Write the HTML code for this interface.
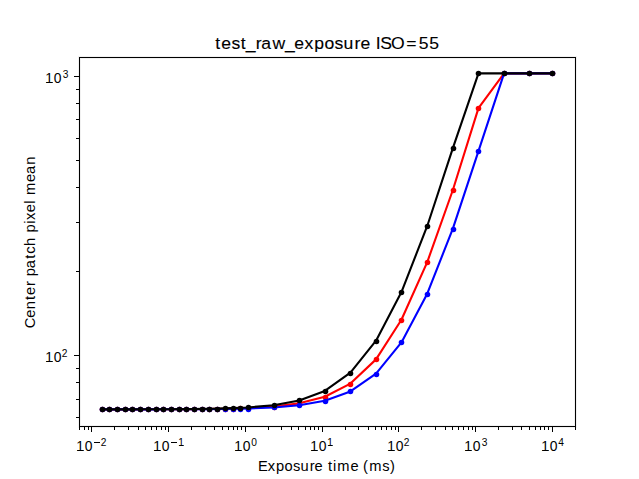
<!DOCTYPE html><html><head><meta charset="utf-8"><style>html,body{margin:0;padding:0;background:#fff;}svg{display:block;}text{font-family:"Liberation Sans",sans-serif;fill:#000;}</style></head><body>
<svg width="639" height="479" viewBox="0 0 639 479">
<rect width="639" height="479" fill="#fff"/>
<path d="M79.5 428.0V56.0M575.5 428.0V56.0M78.0 57.5H577.0M78.0 426.5H577.0" stroke="#f1f1f1" stroke-width="3" fill="none" shape-rendering="crispEdges"/>
<g stroke="#000" stroke-width="1.0" fill="none" shape-rendering="crispEdges">
<path d="M79.5 427.0V57.0M575.5 427.0V57.0M79.0 57.5H576.0M79.0 426.5H576.0"/>
</g>
<path d="M79.5 427.0v2.78M84.5 427.0v2.78M88.5 427.0v2.78M91.5 427.0v4.86M114.5 427.0v2.78M128.5 427.0v2.78M138.5 427.0v2.78M145.5 427.0v2.78M151.5 427.0v2.78M156.5 427.0v2.78M161.5 427.0v2.78M165.5 427.0v2.78M168.5 427.0v4.86M191.5 427.0v2.78M205.5 427.0v2.78M214.5 427.0v2.78M222.5 427.0v2.78M228.5 427.0v2.78M233.5 427.0v2.78M237.5 427.0v2.78M241.5 427.0v2.78M245.5 427.0v4.86M268.5 427.0v2.78M281.5 427.0v2.78M291.5 427.0v2.78M298.5 427.0v2.78M305.5 427.0v2.78M310.5 427.0v2.78M314.5 427.0v2.78M318.5 427.0v2.78M322.5 427.0v4.86M345.5 427.0v2.78M358.5 427.0v2.78M368.5 427.0v2.78M375.5 427.0v2.78M381.5 427.0v2.78M386.5 427.0v2.78M391.5 427.0v2.78M395.5 427.0v2.78M398.5 427.0v4.86M421.5 427.0v2.78M435.5 427.0v2.78M445.5 427.0v2.78M452.5 427.0v2.78M458.5 427.0v2.78M463.5 427.0v2.78M468.5 427.0v2.78M472.5 427.0v2.78M475.5 427.0v4.86M498.5 427.0v2.78M512.5 427.0v2.78M521.5 427.0v2.78M529.5 427.0v2.78M535.5 427.0v2.78M540.5 427.0v2.78M544.5 427.0v2.78M548.5 427.0v2.78M552.5 427.0v4.86M575.5 427.0v2.78M79.0 417.5h-2.78M79.0 399.5h-2.78M79.0 382.5h-2.78M79.0 368.5h-2.78M79.0 355.5h-4.86M79.0 271.5h-2.78M79.0 222.5h-2.78M79.0 187.5h-2.78M79.0 160.5h-2.78M79.0 138.5h-2.78M79.0 119.5h-2.78M79.0 103.5h-2.78M79.0 89.5h-2.78M79.0 76.5h-4.86" stroke="#000" stroke-width="1" fill="none" shape-rendering="crispEdges"/>
<polyline points="101.55,409.38 109.25,409.38 116.96,409.37 124.67,409.37 132.38,409.36 140.09,409.35 147.80,409.33 155.50,409.32 163.21,409.29 170.92,409.27 178.63,409.23 186.34,409.19 194.05,409.14 201.75,409.07 209.46,408.98 217.17,408.87 224.88,408.73 232.59,408.56 240.30,408.35 248.01,408.07 273.61,406.56 299.22,403.36 324.83,396.74 350.43,383.61 376.04,359.38 401.45,319.80 427.25,262.08 452.86,190.02 478.47,108.11 504.07,73.40 529.45,73.40 552.45,73.40" fill="none" stroke="#ff0000" stroke-width="2.083" stroke-linejoin="round" stroke-linecap="square"/>
<g fill="#ff0000">
<circle cx="102.5" cy="409.5" r="2.78"/>
<circle cx="109.5" cy="409.5" r="2.78"/>
<circle cx="117.5" cy="409.5" r="2.78"/>
<circle cx="125.5" cy="409.5" r="2.78"/>
<circle cx="132.5" cy="409.5" r="2.78"/>
<circle cx="140.5" cy="409.5" r="2.78"/>
<circle cx="148.5" cy="409.5" r="2.78"/>
<circle cx="156.5" cy="409.5" r="2.78"/>
<circle cx="163.5" cy="409.5" r="2.78"/>
<circle cx="171.5" cy="409.5" r="2.78"/>
<circle cx="179.5" cy="409.5" r="2.78"/>
<circle cx="186.5" cy="409.5" r="2.78"/>
<circle cx="194.5" cy="409.5" r="2.78"/>
<circle cx="202.5" cy="409.5" r="2.78"/>
<circle cx="209.5" cy="409.5" r="2.78"/>
<circle cx="217.5" cy="409.5" r="2.78"/>
<circle cx="225.5" cy="409.5" r="2.78"/>
<circle cx="233.5" cy="409.5" r="2.78"/>
<circle cx="240.5" cy="408.5" r="2.78"/>
<circle cx="248.5" cy="408.5" r="2.78"/>
<circle cx="274.5" cy="407.5" r="2.78"/>
<circle cx="299.5" cy="403.5" r="2.78"/>
<circle cx="325.5" cy="397.5" r="2.78"/>
<circle cx="350.5" cy="384.5" r="2.78"/>
<circle cx="376.5" cy="359.5" r="2.78"/>
<circle cx="401.5" cy="320.5" r="2.78"/>
<circle cx="427.5" cy="262.5" r="2.78"/>
<circle cx="453.5" cy="190.5" r="2.78"/>
<circle cx="478.5" cy="108.5" r="2.78"/>
<circle cx="504.5" cy="73.5" r="2.78"/>
<circle cx="529.5" cy="73.5" r="2.78"/>
<circle cx="552.5" cy="73.5" r="2.78"/>
</g>
<polyline points="101.55,409.39 109.25,409.39 116.96,409.38 124.67,409.38 132.38,409.37 140.09,409.36 147.80,409.36 155.50,409.34 163.21,409.33 170.92,409.31 178.63,409.29 186.34,409.26 194.05,409.22 201.75,409.18 209.46,409.12 217.17,409.04 224.88,408.95 232.59,408.83 240.30,408.69 248.01,408.50 273.61,407.48 299.22,405.30 324.83,400.73 350.43,391.43 376.04,373.54 401.45,342.44 427.25,293.67 452.86,228.63 478.47,151.17 504.07,73.40 529.45,73.40 552.45,73.40" fill="none" stroke="#0000ff" stroke-width="2.083" stroke-linejoin="round" stroke-linecap="square"/>
<g fill="#0000ff">
<circle cx="102.5" cy="409.5" r="2.78"/>
<circle cx="109.5" cy="409.5" r="2.78"/>
<circle cx="117.5" cy="409.5" r="2.78"/>
<circle cx="125.5" cy="409.5" r="2.78"/>
<circle cx="132.5" cy="409.5" r="2.78"/>
<circle cx="140.5" cy="409.5" r="2.78"/>
<circle cx="148.5" cy="409.5" r="2.78"/>
<circle cx="156.5" cy="409.5" r="2.78"/>
<circle cx="163.5" cy="409.5" r="2.78"/>
<circle cx="171.5" cy="409.5" r="2.78"/>
<circle cx="179.5" cy="409.5" r="2.78"/>
<circle cx="186.5" cy="409.5" r="2.78"/>
<circle cx="194.5" cy="409.5" r="2.78"/>
<circle cx="202.5" cy="409.5" r="2.78"/>
<circle cx="209.5" cy="409.5" r="2.78"/>
<circle cx="217.5" cy="409.5" r="2.78"/>
<circle cx="225.5" cy="409.5" r="2.78"/>
<circle cx="233.5" cy="409.5" r="2.78"/>
<circle cx="240.5" cy="409.5" r="2.78"/>
<circle cx="248.5" cy="409.5" r="2.78"/>
<circle cx="274.5" cy="407.5" r="2.78"/>
<circle cx="299.5" cy="405.5" r="2.78"/>
<circle cx="325.5" cy="401.5" r="2.78"/>
<circle cx="350.5" cy="391.5" r="2.78"/>
<circle cx="376.5" cy="374.5" r="2.78"/>
<circle cx="401.5" cy="342.5" r="2.78"/>
<circle cx="427.5" cy="294.5" r="2.78"/>
<circle cx="453.5" cy="229.5" r="2.78"/>
<circle cx="478.5" cy="151.5" r="2.78"/>
<circle cx="504.5" cy="73.5" r="2.78"/>
<circle cx="529.5" cy="73.5" r="2.78"/>
<circle cx="552.5" cy="73.5" r="2.78"/>
</g>
<polyline points="101.55,409.38 109.25,409.37 116.96,409.36 124.67,409.35 132.38,409.34 140.09,409.32 147.80,409.30 155.50,409.28 163.21,409.24 170.92,409.20 178.63,409.15 186.34,409.09 194.05,409.01 201.75,408.90 209.46,408.77 217.17,408.61 224.88,408.41 232.59,408.15 240.30,407.83 248.01,407.42 273.61,405.18 299.22,400.49 324.83,390.96 350.43,372.66 376.04,340.69 401.45,292.01 427.25,225.99 452.86,148.17 478.47,73.40 504.07,73.40 529.45,73.40 552.45,73.40" fill="none" stroke="#000000" stroke-width="2.083" stroke-linejoin="round" stroke-linecap="square"/>
<g fill="#000000">
<circle cx="102.5" cy="409.5" r="2.78"/>
<circle cx="109.5" cy="409.5" r="2.78"/>
<circle cx="117.5" cy="409.5" r="2.78"/>
<circle cx="125.5" cy="409.5" r="2.78"/>
<circle cx="132.5" cy="409.5" r="2.78"/>
<circle cx="140.5" cy="409.5" r="2.78"/>
<circle cx="148.5" cy="409.5" r="2.78"/>
<circle cx="156.5" cy="409.5" r="2.78"/>
<circle cx="163.5" cy="409.5" r="2.78"/>
<circle cx="171.5" cy="409.5" r="2.78"/>
<circle cx="179.5" cy="409.5" r="2.78"/>
<circle cx="186.5" cy="409.5" r="2.78"/>
<circle cx="194.5" cy="409.5" r="2.78"/>
<circle cx="202.5" cy="409.5" r="2.78"/>
<circle cx="209.5" cy="409.5" r="2.78"/>
<circle cx="217.5" cy="409.5" r="2.78"/>
<circle cx="225.5" cy="408.5" r="2.78"/>
<circle cx="233.5" cy="408.5" r="2.78"/>
<circle cx="240.5" cy="408.5" r="2.78"/>
<circle cx="248.5" cy="407.5" r="2.78"/>
<circle cx="274.5" cy="405.5" r="2.78"/>
<circle cx="299.5" cy="400.5" r="2.78"/>
<circle cx="325.5" cy="391.5" r="2.78"/>
<circle cx="350.5" cy="373.5" r="2.78"/>
<circle cx="376.5" cy="341.5" r="2.78"/>
<circle cx="401.5" cy="292.5" r="2.78"/>
<circle cx="427.5" cy="226.5" r="2.78"/>
<circle cx="453.5" cy="148.5" r="2.78"/>
<circle cx="478.5" cy="73.5" r="2.78"/>
<circle cx="504.5" cy="73.5" r="2.78"/>
<circle cx="529.5" cy="73.5" r="2.78"/>
<circle cx="552.5" cy="73.5" r="2.78"/>
</g>
<text transform="scale(1.02,1)" stroke="#000" stroke-width="0.12" x="211.11 217.01 226.86 236.08 241.05 250.69 256.20 267.07 279.31 288.42 298.41 308.09 318.17 328.02 336.82 347.63 353.46 363.45 368.45 372.78 383.36 398.31 410.52 420.92" y="49" font-size="17.25">test_raw_exposure ISO=55</text>
<text transform="scale(1.02,1)" x="253.02 262.57 270.64 279.04 287.25 294.58 303.59 308.44 316.77 321.57 326.57 330.73 343.54 351.86 355.92 362.02 374.65 382.32" y="471" font-size="14.38">Exposure time (ms)</text>
<text transform="translate(35,327) rotate(-90) scale(1.02,1)" x="-1.28 8.96 17.47 26.39 31.31 40.13 45.23 49.80 57.70 67.02 71.71 79.53 88.00 92.57 101.11 105.00 112.45 120.90 124.56 129.40 142.20 150.02 159.05" y="0" font-size="14.38">Center patch pixel mean</text>
<text x="80.2" y="451" font-size="13.89" text-anchor="middle">1</text><rect x="77.25" y="450" width="6.4" height="1"/><text x="88.5" y="451" font-size="13.89" text-anchor="middle">0</text><rect x="94" y="442" width="6" height="1"/><text x="103.5" y="446" font-size="10.2" text-anchor="middle">2</text>
<text x="157.2" y="451" font-size="13.89" text-anchor="middle">1</text><rect x="154.25" y="450" width="6.4" height="1"/><text x="165.5" y="451" font-size="13.89" text-anchor="middle">0</text><rect x="171" y="442" width="6" height="1"/><text x="181.0" y="446" font-size="10.2" text-anchor="middle">1</text><rect x="179.2" y="445" width="4.4" height="1"/>
<text x="238.2" y="451" font-size="13.89" text-anchor="middle">1</text><rect x="235.25" y="450" width="6.4" height="1"/><text x="246.5" y="451" font-size="13.89" text-anchor="middle">0</text><text x="254.0" y="446" font-size="10.2" text-anchor="middle">0</text>
<text x="314.2" y="451" font-size="13.89" text-anchor="middle">1</text><rect x="311.25" y="450" width="6.4" height="1"/><text x="322.5" y="451" font-size="13.89" text-anchor="middle">0</text><text x="330.0" y="446" font-size="10.2" text-anchor="middle">1</text><rect x="328.2" y="445" width="4.4" height="1"/>
<text x="391.2" y="451" font-size="13.89" text-anchor="middle">1</text><rect x="388.25" y="450" width="6.4" height="1"/><text x="399.5" y="451" font-size="13.89" text-anchor="middle">0</text><text x="406.5" y="446" font-size="10.2" text-anchor="middle">2</text>
<text x="468.2" y="451" font-size="13.89" text-anchor="middle">1</text><rect x="465.25" y="450" width="6.4" height="1"/><text x="476.5" y="451" font-size="13.89" text-anchor="middle">0</text><text x="484.5" y="446" font-size="10.2" text-anchor="middle">3</text>
<text x="545.2" y="451" font-size="13.89" text-anchor="middle">1</text><rect x="542.25" y="450" width="6.4" height="1"/><text x="553.5" y="451" font-size="13.89" text-anchor="middle">0</text><text x="561.0" y="446" font-size="10.2" text-anchor="middle">4</text>
<text x="49.2" y="83" font-size="13.89" text-anchor="middle">1</text><rect x="46.25" y="82" width="6.4" height="1"/><text x="57.5" y="83" font-size="13.89" text-anchor="middle">0</text><text x="65.5" y="78" font-size="10.2" text-anchor="middle">3</text>
<text x="49.2" y="362" font-size="13.89" text-anchor="middle">1</text><rect x="46.25" y="361" width="6.4" height="1"/><text x="57.5" y="362" font-size="13.89" text-anchor="middle">0</text><text x="64.5" y="357" font-size="10.2" text-anchor="middle">2</text>
</svg></body></html>
